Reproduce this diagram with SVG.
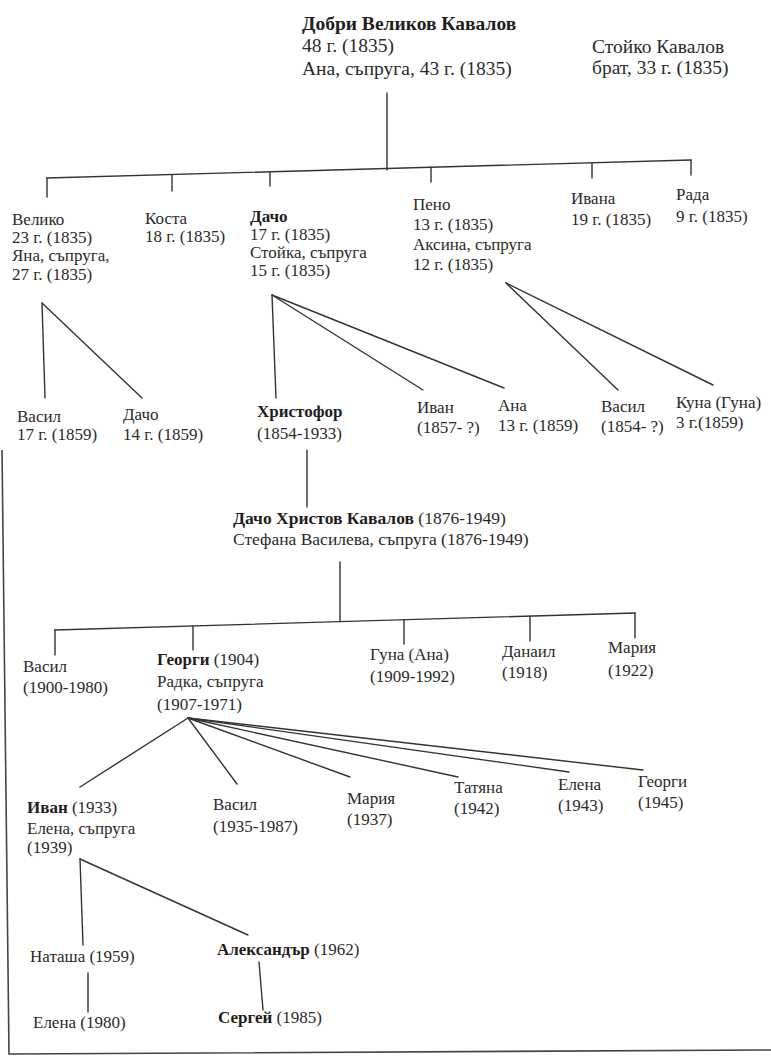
<svg xmlns="http://www.w3.org/2000/svg" width="771" height="1058" viewBox="0 0 771 1058">
<style>
text{font-family:"Liberation Serif","DejaVu Serif",serif;font-size:17px;fill:#2a2a2a}
.top{font-size:19.5px}
.mid{font-size:17.5px}
.b{font-weight:bold;fill:#1e1e1e}
.ln{stroke:#333;stroke-width:1.4;fill:none;stroke-linecap:round}
.fr{stroke:#444;stroke-width:1.6;fill:none}
</style>
<rect width="771" height="1058" fill="#fff"/>
<g id="frame"><polyline class="fr" points="2,450 9,1054 771,1050"/></g>
<g id="connectors">
<line class="ln" x1="387" y1="93" x2="387" y2="170"/>
<line class="ln" x1="47" y1="178" x2="691" y2="160"/>
<line class="ln" x1="47" y1="178" x2="47" y2="197"/>
<line class="ln" x1="172" y1="174.5" x2="172" y2="191"/>
<line class="ln" x1="270" y1="171.8" x2="270" y2="186"/>
<line class="ln" x1="431" y1="167.3" x2="431" y2="182"/>
<line class="ln" x1="592" y1="162.8" x2="592" y2="178"/>
<line class="ln" x1="691" y1="160" x2="691" y2="175"/>
<line class="ln" x1="42" y1="303" x2="45" y2="398"/>
<line class="ln" x1="42" y1="303" x2="142" y2="398"/>
<line class="ln" x1="272" y1="295" x2="276" y2="398"/>
<line class="ln" x1="272" y1="295" x2="423" y2="390"/>
<line class="ln" x1="272" y1="295" x2="504" y2="388"/>
<line class="ln" x1="506" y1="283" x2="618" y2="390"/>
<line class="ln" x1="506" y1="283" x2="713" y2="385"/>
<line class="ln" x1="307" y1="450" x2="307" y2="507"/>
<line class="ln" x1="340" y1="562" x2="340" y2="621.5"/>
<line class="ln" x1="55" y1="630" x2="635" y2="613"/>
<line class="ln" x1="55" y1="630" x2="55" y2="655"/>
<line class="ln" x1="193" y1="626" x2="193" y2="650"/>
<line class="ln" x1="404" y1="619.8" x2="404" y2="644"/>
<line class="ln" x1="530" y1="616.1" x2="530" y2="641"/>
<line class="ln" x1="635" y1="613" x2="635" y2="638"/>
<line class="ln" x1="188" y1="718" x2="80" y2="787"/>
<line class="ln" x1="188" y1="718" x2="237" y2="784"/>
<line class="ln" x1="188" y1="718" x2="350" y2="777"/>
<line class="ln" x1="188" y1="718" x2="458" y2="777"/>
<line class="ln" x1="188" y1="718" x2="569" y2="772"/>
<line class="ln" x1="188" y1="718" x2="643" y2="770"/>
<line class="ln" x1="80" y1="859" x2="83" y2="945"/>
<line class="ln" x1="80" y1="859" x2="248" y2="935"/>
<line class="ln" x1="88" y1="973" x2="88" y2="1012"/>
<line class="ln" x1="259" y1="962" x2="263" y2="1010"/>
</g>
<g id="n_dobri"><text class="top"><tspan class="b" x="302" y="30">Добри Великов Кавалов</tspan><tspan x="302" y="52">48 г. (1835)</tspan><tspan x="302" y="75">Ана, съпруга, 43 г. (1835)</tspan></text></g>
<g id="n_stoyko"><text class="top"><tspan x="592" y="53">Стойко Кавалов</tspan><tspan x="592" y="74">брат, 33 г. (1835)</tspan></text></g>
<g id="n_veliko"><text><tspan x="12" y="225">Велико</tspan><tspan x="12" y="243">23 г. (1835)</tspan><tspan x="12" y="261">Яна, съпруга,</tspan><tspan x="12" y="280">27 г. (1835)</tspan></text></g>
<g id="n_kosta"><text><tspan x="145" y="224">Коста</tspan><tspan x="145" y="242">18 г. (1835)</tspan></text></g>
<g id="n_dacho"><text><tspan class="b" x="250" y="222">Дачо</tspan><tspan x="250" y="240">17 г. (1835)</tspan><tspan x="250" y="258">Стойка, съпруга</tspan><tspan x="250" y="276">15 г. (1835)</tspan></text></g>
<g id="n_peno"><text><tspan x="413" y="210">Пено</tspan><tspan x="413" y="230">13 г. (1835)</tspan><tspan x="413" y="250">Аксина, съпруга</tspan><tspan x="413" y="270">12 г. (1835)</tspan></text></g>
<g id="n_ivana"><text><tspan x="571" y="204">Ивана</tspan><tspan x="571" y="225">19 г. (1835)</tspan></text></g>
<g id="n_rada"><text><tspan x="676" y="200">Рада</tspan><tspan x="676" y="222">9 г. (1835)</tspan></text></g>
<g id="n_vasil1"><text><tspan x="17" y="422">Васил</tspan><tspan x="17" y="440">17 г. (1859)</tspan></text></g>
<g id="n_dacho2"><text><tspan x="123" y="420">Дачо</tspan><tspan x="123" y="440">14 г. (1859)</tspan></text></g>
<g id="n_hristofor"><text><tspan class="b" x="257" y="417">Христофор</tspan><tspan x="257" y="439">(1854-1933)</tspan></text></g>
<g id="n_ivan1"><text><tspan x="417" y="413">Иван</tspan><tspan x="417" y="433">(1857- ?)</tspan></text></g>
<g id="n_ana"><text><tspan x="498" y="411">Ана</tspan><tspan x="498" y="431">13 г. (1859)</tspan></text></g>
<g id="n_vasil2"><text><tspan x="601" y="412">Васил</tspan><tspan x="601" y="432">(1854- ?)</tspan></text></g>
<g id="n_kuna"><text><tspan x="676" y="408">Куна (Гуна)</tspan><tspan x="676" y="428">3 г.(1859)</tspan></text></g>
<g id="n_dacho3"><text class="mid"><tspan x="233" y="524"><tspan class="b">Дачо Христов Кавалов</tspan> (1876-1949)</tspan><tspan x="233" y="545">Стефана Василева, съпруга (1876-1949)</tspan></text></g>
<g id="n_vasil3"><text><tspan x="23" y="672">Васил</tspan><tspan x="23" y="693">(1900-1980)</tspan></text></g>
<g id="n_georgi"><text><tspan x="157" y="665"><tspan class="b">Георги</tspan> (1904)</tspan><tspan x="157" y="687">Радка, съпруга</tspan><tspan x="157" y="710">(1907-1971)</tspan></text></g>
<g id="n_guna"><text><tspan x="370" y="660">Гуна (Ана)</tspan><tspan x="370" y="682">(1909-1992)</tspan></text></g>
<g id="n_danail"><text><tspan x="502" y="657">Данаил</tspan><tspan x="502" y="678">(1918)</tspan></text></g>
<g id="n_mariya1"><text><tspan x="608" y="653">Мария</tspan><tspan x="608" y="676">(1922)</tspan></text></g>
<g id="n_ivan2"><text><tspan x="27" y="813"><tspan class="b">Иван</tspan> (1933)</tspan><tspan x="27" y="834">Елена, съпруга</tspan><tspan x="27" y="853">(1939)</tspan></text></g>
<g id="n_vasil4"><text><tspan x="213" y="810">Васил</tspan><tspan x="213" y="832">(1935-1987)</tspan></text></g>
<g id="n_mariya2"><text><tspan x="347" y="804">Мария</tspan><tspan x="347" y="825">(1937)</tspan></text></g>
<g id="n_tatyana"><text><tspan x="454" y="793">Татяна</tspan><tspan x="454" y="814">(1942)</tspan></text></g>
<g id="n_elena1"><text><tspan x="558" y="790">Елена</tspan><tspan x="558" y="811">(1943)</tspan></text></g>
<g id="n_georgi2"><text><tspan x="638" y="787">Георги</tspan><tspan x="638" y="808">(1945)</tspan></text></g>
<g id="n_natasha"><text><tspan x="30" y="962">Наташа (1959)</tspan></text></g>
<g id="n_aleksandar"><text><tspan x="217" y="955"><tspan class="b">Александър</tspan> (1962)</tspan></text></g>
<g id="n_elena2"><text><tspan x="33" y="1028">Елена (1980)</tspan></text></g>
<g id="n_sergei"><text><tspan x="218" y="1023"><tspan class="b">Сергей</tspan> (1985)</tspan></text></g>
</svg>
